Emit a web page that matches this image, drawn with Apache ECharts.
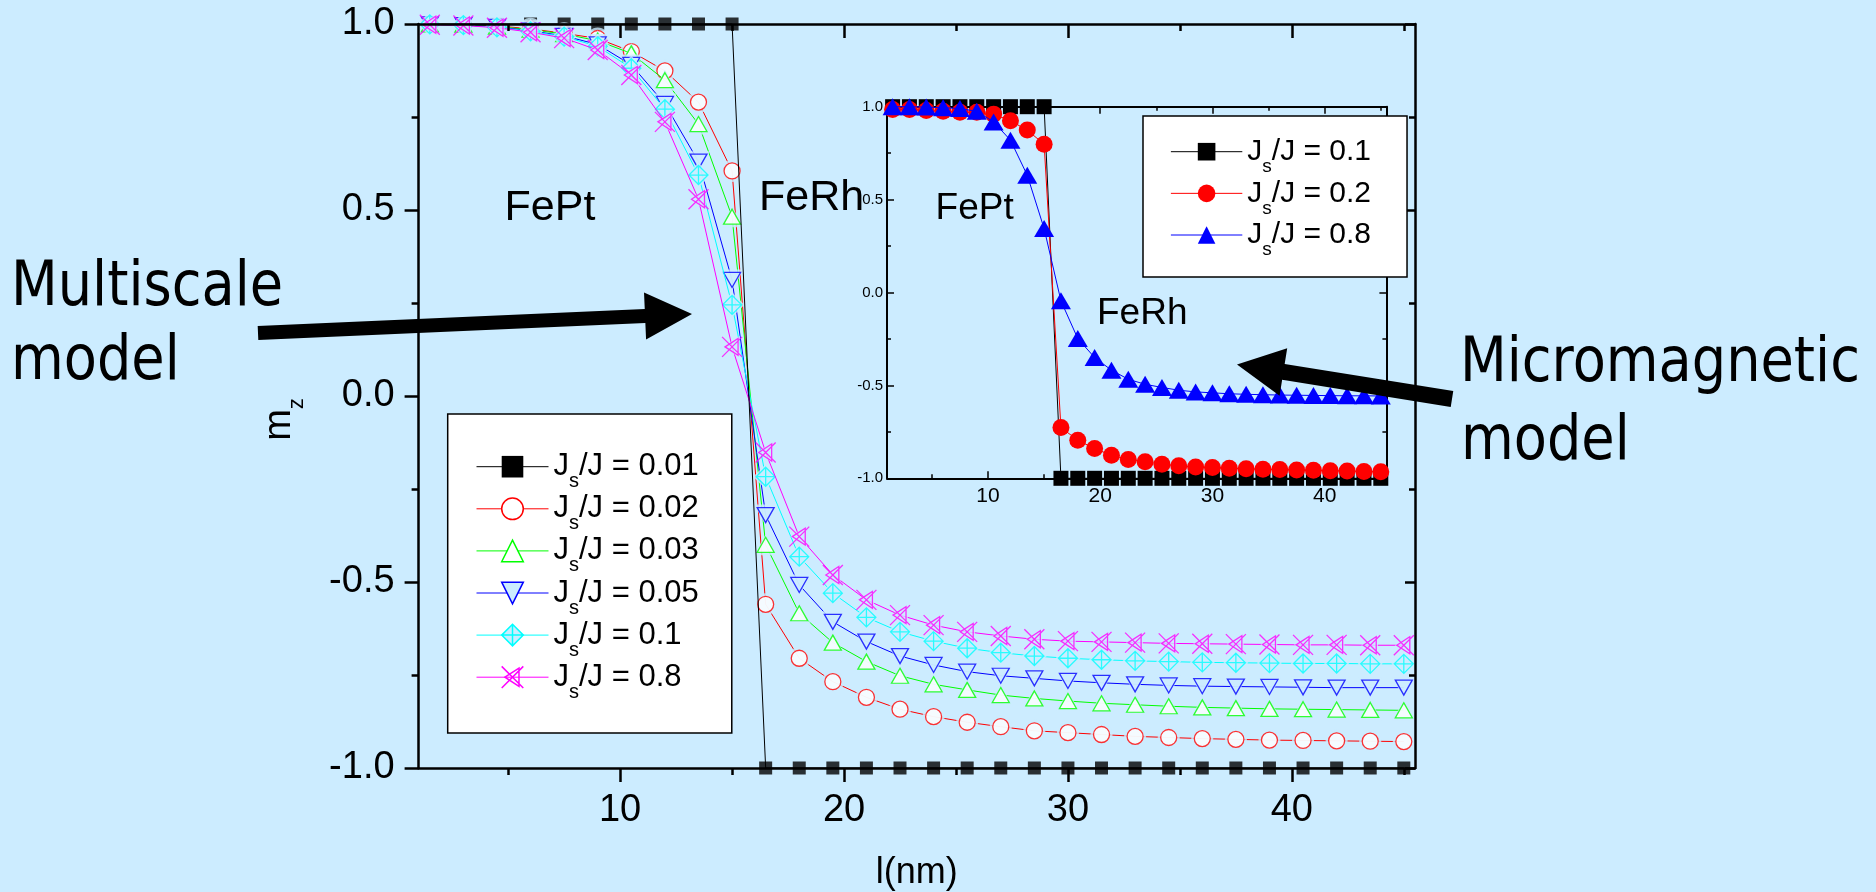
<!DOCTYPE html>
<html>
<head>
<meta charset="utf-8">
<script src="https://cdn.jsdelivr.net/npm/echarts@6/dist/echarts.min.js"></script>
<style>
  html, body { margin: 0; padding: 0; background: #CCECFF; }
  #chart { width: 1876px; height: 892px; }
</style>
</head>
<body>
<div id="chart"></div>
<script>
// Position along the FePt/FeRh stack, l (nm)
const lengths = [1.5, 3, 4.5, 6, 7.5, 9, 10.5, 12, 13.5, 15, 16.5, 18, 19.5, 21, 22.5, 24, 25.5, 27, 28.5, 30, 31.5, 33, 34.5, 36, 37.5, 39, 40.5, 42, 43.5, 45];

// Multiscale model: m_z profiles for several interface couplings J_s/J
const mzJs001 = [1, 1, 1, 1, 1, 1, 1, 1, 1, 1, -1, -1, -1, -1, -1, -1, -1, -1, -1, -1, -1, -1, -1, -1, -1, -1, -1, -1, -1, -1];
const mzJs002 = [1.000, 0.998, 0.995, 0.987, 0.975, 0.961, 0.926, 0.874, 0.790, 0.605, -0.560, -0.705, -0.768, -0.810, -0.842, -0.862, -0.877, -0.889, -0.900, -0.905, -0.910, -0.915, -0.918, -0.921, -0.923, -0.925, -0.926, -0.927, -0.928, -0.929];
const mzJs003 = [0.999, 0.998, 0.993, 0.985, 0.973, 0.955, 0.921, 0.849, 0.731, 0.482, -0.400, -0.584, -0.663, -0.714, -0.752, -0.775, -0.790, -0.804, -0.813, -0.820, -0.826, -0.830, -0.834, -0.837, -0.839, -0.841, -0.842, -0.843, -0.844, -0.845];
const mzJs005 = [0.999, 0.997, 0.992, 0.982, 0.968, 0.945, 0.890, 0.785, 0.630, 0.312, -0.320, -0.508, -0.607, -0.660, -0.699, -0.723, -0.741, -0.752, -0.759, -0.766, -0.771, -0.775, -0.778, -0.780, -0.781, -0.782, -0.783, -0.784, -0.784, -0.784];
const mzJs01 = [0.999, 0.997, 0.991, 0.980, 0.966, 0.940, 0.881, 0.771, 0.594, 0.245, -0.217, -0.432, -0.530, -0.595, -0.634, -0.659, -0.678, -0.690, -0.699, -0.705, -0.709, -0.712, -0.714, -0.716, -0.717, -0.718, -0.719, -0.719, -0.720, -0.720];
const mzJs08 = [0.998, 0.996, 0.990, 0.978, 0.962, 0.930, 0.863, 0.737, 0.529, 0.132, -0.152, -0.378, -0.481, -0.548, -0.589, -0.616, -0.634, -0.645, -0.654, -0.659, -0.661, -0.663, -0.665, -0.666, -0.667, -0.668, -0.669, -0.669, -0.670, -0.670];

// Micromagnetic model (inset)
const microJs01 = [1, 1, 1, 1, 1, 1, 1, 1, 1, 1, -1, -1, -1, -1, -1, -1, -1, -1, -1, -1, -1, -1, -1, -1, -1, -1, -1, -1, -1, -1];
const microJs02 = [0.985, 0.985, 0.980, 0.975, 0.970, 0.970, 0.960, 0.924, 0.874, 0.798, -0.727, -0.795, -0.840, -0.876, -0.899, -0.911, -0.924, -0.933, -0.939, -0.942, -0.946, -0.949, -0.951, -0.953, -0.955, -0.957, -0.959, -0.961, -0.963, -0.965];
const microJs08 = [1.000, 1.000, 0.998, 0.995, 0.990, 0.975, 0.918, 0.820, 0.631, 0.344, -0.045, -0.248, -0.350, -0.418, -0.467, -0.494, -0.511, -0.526, -0.535, -0.540, -0.545, -0.548, -0.550, -0.552, -0.553, -0.554, -0.555, -0.556, -0.556, -0.557];

// Axis ticks
const xMajorTicks = [10, 20, 30, 40];
const xMinorTicks = [5, 15, 25, 35, 45];
const xRange = [1, 45.5];
const yRange = [-1, 1];

const BG = '#CCECFF';
const FONT = '"Liberation Sans", Arial, Helvetica, sans-serif';
const SLIDE_FONT = '"DejaVu Sans", Verdana, sans-serif';

// Open / crossed marker outlines
const DOWN_TRI = 'path://M0,0L20,0L10,17Z';
const DIAMOND_CROSS = 'path://M10,0L20,10L10,20L0,10ZM10,0L10,20M0,10L20,10';
const X_TRI = 'path://M0,0L20,20M0,20L20,0M3,10L16,1.5L16,18.5Z';

const mainSets = [
  { key: '0.01', values: mzJs001, color: '#000000', symbol: 'rect', size: 13, fill: '#000000', border: 0 },
  { key: '0.02', values: mzJs002, color: '#FF0000', symbol: 'circle', size: 16, fill: '#FFFFFF', border: 1.3 },
  { key: '0.03', values: mzJs003, color: '#00FF00', symbol: 'triangle', size: [17, 15], fill: '#FFFFFF', border: 1.3 },
  { key: '0.05', values: mzJs005, color: '#0000FF', symbol: DOWN_TRI, size: [17, 15], fill: BG, border: 1.3 },
  { key: '0.1', values: mzJs01, color: '#00FFFF', symbol: DIAMOND_CROSS, size: 19, fill: BG, border: 1.3 },
  { key: '0.8', values: mzJs08, color: '#FF00FF', symbol: X_TRI, size: 20, fill: 'rgba(0,0,0,0)', border: 1.3 }
];

const insetSets = [
  { key: '0.1', values: microJs01, color: '#000000', symbol: 'rect', size: 15 },
  { key: '0.2', values: microJs02, color: '#FF0000', symbol: 'circle', size: 17 },
  { key: '0.8', values: microJs08, color: '#0000FF', symbol: 'triangle', size: [20, 17] }
];

const legendNames = {};
const pairs = vals => lengths.map((x, i) => [x, vals[i]]);
const grow = (s, d) => Array.isArray(s) ? [s[0] + d, s[1] + d] : s + d;

const series = [];
mainSets.forEach((s, k) => {
  const name = 'multiscale ' + s.key;
  legendNames[name] = s.key;
  const data = pairs(s.values);
  const black = k === 0;
  const zBase = 10 + 3 * k;
  const markStyle = { color: s.fill, borderColor: s.color, borderWidth: s.border };
  // connecting line (symbol kept for the legend icon)
  series.push({
    name, type: 'line', xAxisIndex: 0, yAxisIndex: 0, data,
    showSymbol: false, symbol: s.symbol, symbolSize: s.size, itemStyle: markStyle,
    lineStyle: { color: s.color, width: 1 }, clip: false, silent: true,
    z: black ? 100 : zBase
  });
  // background-coloured ring leaves a small gap between line and marker
  if (!black) {
    series.push({
      type: 'scatter', xAxisIndex: 0, yAxisIndex: 0, data,
      symbol: s.symbol, symbolSize: grow(s.size, 6),
      itemStyle: { color: BG }, clip: false, silent: true, z: zBase + 1
    });
  }
  series.push({
    type: 'scatter', xAxisIndex: 0, yAxisIndex: 0, data,
    symbol: s.symbol, symbolSize: s.size, itemStyle: markStyle,
    clip: false, silent: true, z: black ? 5 : zBase + 2
  });
});

insetSets.forEach((s, k) => {
  const name = 'micromagnetic ' + s.key;
  legendNames[name] = s.key;
  series.push({
    name, type: 'line', xAxisIndex: 4, yAxisIndex: 2, data: pairs(s.values),
    symbol: s.symbol, symbolSize: s.size, showSymbol: true,
    itemStyle: { color: s.color, borderWidth: 0 },
    lineStyle: { color: s.color, width: 1 }, clip: false, silent: true, z: 20 + k
  });
});

const ink = '#000000';
function tickLine(w) { return { color: ink, width: w }; }

function xAxisPart(grid, position, opts) {
  return Object.assign({
    gridIndex: grid, type: 'value', position, min: xRange[0], max: xRange[1],
    axisLine: { show: false, onZero: false },
    axisTick: { show: false },
    axisLabel: { show: false },
    splitLine: { show: false },
    z: grid === 0 ? 50 : 10
  }, opts);
}
function yAxisPart(grid, position, opts) {
  return Object.assign({
    gridIndex: grid, type: 'value', position, min: yRange[0], max: yRange[1], interval: 0.5,
    axisLine: { show: true, onZero: false },
    axisTick: { show: true },
    axisLabel: { show: false },
    splitLine: { show: false },
    minorSplitLine: { show: false },
    z: grid === 0 ? 50 : 10
  }, opts);
}

const fmt1 = v => v.toFixed(1);

const xAxes = [
  // main plot
  xAxisPart(0, 'bottom', {
    axisLine: { show: true, onZero: false, lineStyle: tickLine(2.5) },
    axisTick: { show: true, inside: false, length: 14, customValues: xMajorTicks, lineStyle: tickLine(2.5) },
    axisLabel: { show: true, customValues: xMajorTicks, margin: 24, fontSize: 38, fontFamily: FONT, color: ink },
    name: 'l(nm)', nameLocation: 'middle', nameGap: 87,
    nameTextStyle: { fontSize: 36, fontFamily: FONT, color: ink }
  }),
  xAxisPart(0, 'bottom', {
    axisTick: { show: true, inside: false, length: 7, customValues: xMinorTicks, lineStyle: tickLine(2.5) }
  }),
  xAxisPart(0, 'top', {
    axisLine: { show: true, onZero: false, lineStyle: tickLine(2.5) },
    axisTick: { show: true, inside: true, length: 14, customValues: xMajorTicks, lineStyle: tickLine(2.5) }
  }),
  xAxisPart(0, 'top', {
    axisTick: { show: true, inside: true, length: 7, customValues: xMinorTicks, lineStyle: tickLine(2.5) }
  }),
  // inset
  xAxisPart(1, 'bottom', {
    axisLine: { show: true, onZero: false, lineStyle: tickLine(2) },
    axisTick: { show: true, inside: true, length: 7, customValues: xMajorTicks, lineStyle: tickLine(1.5) },
    axisLabel: { show: true, customValues: xMajorTicks, margin: 7, fontSize: 21, fontFamily: FONT, color: ink }
  }),
  xAxisPart(1, 'bottom', {
    axisTick: { show: true, inside: true, length: 4, customValues: xMinorTicks, lineStyle: tickLine(1.5) }
  }),
  xAxisPart(1, 'top', {
    axisLine: { show: true, onZero: false, lineStyle: tickLine(2) },
    axisTick: { show: true, inside: true, length: 7, customValues: xMajorTicks, lineStyle: tickLine(1.5) }
  }),
  xAxisPart(1, 'top', {
    axisTick: { show: true, inside: true, length: 4, customValues: xMinorTicks, lineStyle: tickLine(1.5) }
  })
];

const yAxes = [
  yAxisPart(0, 'left', {
    axisLine: { show: true, onZero: false, lineStyle: tickLine(2.5) },
    axisTick: { show: true, inside: false, length: 14, lineStyle: tickLine(2.5) },
    minorTick: { show: true, splitNumber: 2, length: 7, lineStyle: tickLine(2.5) },
    axisLabel: { show: true, margin: 24, fontSize: 38, fontFamily: FONT, color: ink, formatter: fmt1 }
  }),
  yAxisPart(0, 'right', {
    axisLine: { show: true, onZero: false, lineStyle: tickLine(2.5) },
    axisTick: { show: true, inside: true, length: 10, lineStyle: tickLine(2.5) },
    minorTick: { show: true, splitNumber: 2, length: 6, lineStyle: tickLine(2.5) }
  }),
  yAxisPart(1, 'left', {
    axisLine: { show: true, onZero: false, lineStyle: tickLine(2) },
    axisTick: { show: true, inside: true, length: 7, lineStyle: tickLine(1.5) },
    minorTick: { show: true, splitNumber: 2, length: 4, lineStyle: tickLine(1.5) },
    axisLabel: { show: true, margin: 4, fontSize: 15, fontFamily: FONT, color: ink, formatter: fmt1 }
  }),
  yAxisPart(1, 'right', {
    axisLine: { show: true, onZero: false, lineStyle: tickLine(2) },
    axisTick: { show: true, inside: true, length: 7, lineStyle: tickLine(1.5) },
    minorTick: { show: true, splitNumber: 2, length: 4, lineStyle: tickLine(1.5) }
  })
];

function legendItems(sets, prefix, filled) {
  return sets.map(s => ({
    name: prefix + s.key,
    itemStyle: filled
      ? { color: s.color, borderWidth: 0 }
      : { color: s.fill, borderColor: s.color, borderWidth: s.border ? 1.5 : 0 },
    lineStyle: { color: s.color, width: 1 }
  }));
}
const legendFormatter = name => 'J{s|s}/J = ' + legendNames[name];

// Thick block arrow as a polygon from tail to tip
function arrowPoints(tail, tip, shaft, headLen, headHalf) {
  const dx = tip[0] - tail[0], dy = tip[1] - tail[1];
  const L = Math.hypot(dx, dy);
  const ux = dx / L, uy = dy / L, nx = -uy, ny = ux;
  const bx = tip[0] - ux * headLen, by = tip[1] - uy * headLen;
  const h = shaft / 2;
  return [
    [tail[0] + nx * h, tail[1] + ny * h],
    [bx + nx * h, by + ny * h],
    [bx + nx * headHalf, by + ny * headHalf],
    [tip[0], tip[1]],
    [bx - nx * headHalf, by - ny * headHalf],
    [bx - nx * h, by - ny * h],
    [tail[0] - nx * h, tail[1] - ny * h]
  ];
}

function label(text, x, y, size, family, scaleX) {
  return {
    type: 'text', x, y, scaleX: scaleX || 1, z: 120, silent: true,
    style: { text, x: 0, y: 0, fontSize: size, fontFamily: family, fill: ink, align: 'left', verticalAlign: 'middle' }
  };
}

const option = {
  backgroundColor: BG,
  animation: false,
  textStyle: { fontFamily: FONT },
  grid: [
    { left: 418.6, top: 24, width: 996.4, height: 744, containLabel: false, outerBoundsMode: 'none' },
    { left: 887, top: 106.7, width: 499.4, height: 371.6, containLabel: false, outerBoundsMode: 'none' }
  ],
  xAxis: xAxes,
  yAxis: yAxes,
  legend: [
    {
      data: legendItems(mainSets, 'multiscale ', false),
      orient: 'vertical', left: 447.7, top: 414,
      itemWidth: 72, itemHeight: 27, itemGap: -7.9,
      padding: [27.7, 33, 30.7, 28.3],
      backgroundColor: '#FFFFFF', borderColor: ink, borderWidth: 1.5, borderRadius: 0,
      selectedMode: false, z: 100,
      formatter: legendFormatter,
      textStyle: {
        fontFamily: FONT, fontSize: 31, lineHeight: 31, color: ink,
        rich: { s: { fontFamily: FONT, fontSize: 20, lineHeight: 20, color: ink, padding: [30, 0, 0, 0] } }
      }
    },
    {
      data: legendItems(insetSets, 'micromagnetic ', true),
      orient: 'vertical', left: 1143, top: 116,
      itemWidth: 71.4, itemHeight: 22, itemGap: -7.35,
      padding: [11.2, 36, 17.5, 27.4],
      backgroundColor: '#FFFFFF', borderColor: ink, borderWidth: 1.5, borderRadius: 0,
      selectedMode: false, z: 100,
      formatter: legendFormatter,
      textStyle: {
        fontFamily: FONT, fontSize: 30, lineHeight: 30, color: ink,
        rich: { s: { fontFamily: FONT, fontSize: 19, lineHeight: 19, color: ink, padding: [30, 0, 0, 0] } }
      }
    }
  ],
  graphic: [
    { type: 'polygon', z: 120, silent: true, shape: { points: arrowPoints([258, 333], [692, 314], 14, 47, 23.5) }, style: { fill: ink } },
    { type: 'polygon', z: 120, silent: true, shape: { points: arrowPoints([1452, 399], [1237, 364.5], 16, 47, 24) }, style: { fill: ink } },
    label('Multiscale', 11, 288.7, 63, SLIDE_FONT, 0.86),
    label('model', 11, 362.7, 63, SLIDE_FONT, 0.86),
    label('Micromagnetic', 1460, 364.7, 63, SLIDE_FONT, 0.86),
    label('model', 1461, 443, 63, SLIDE_FONT, 0.86),
    label('FePt', 504.6, 207.7, 43, FONT),
    label('FeRh', 759, 197.7, 43, FONT),
    label('FePt', 935.6, 208.8, 37, FONT),
    label('FeRh', 1097, 313.8, 37, FONT),
    {
      type: 'text', x: 279.4, y: 419.5, rotation: Math.PI / 2, z: 120, silent: true,
      style: {
        text: 'm{z|z}', x: 0, y: 0, fontSize: 38, fontFamily: FONT, fill: ink,
        align: 'center', verticalAlign: 'middle',
        rich: { z: { fontSize: 22, fontFamily: FONT, fill: ink, lineHeight: 22, padding: [35, 0, 0, 0] } }
      }
    }
  ],
  series
};

const chart = echarts.init(document.getElementById('chart'), null, { renderer: 'canvas' });
chart.setOption(option);
</script>
</body>
</html>
